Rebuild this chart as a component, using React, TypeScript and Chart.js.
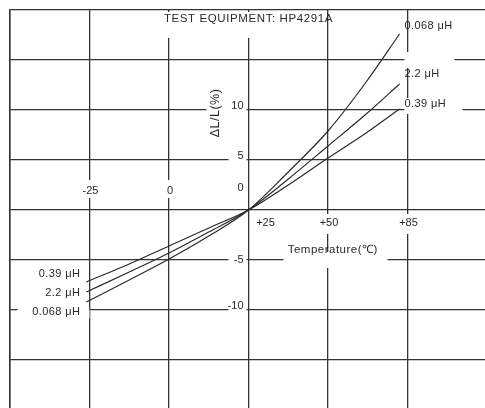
import { useEffect, useRef } from "react";
import { Chart, registerables } from "chart.js";

Chart.register(...registerables);

// Temperature positions (axis units; the last grid column is labelled +85)
const temperatures = [-26, -12.5, 0, 12.5, 25, 37.5, 50, 62, 72.5];
const series068 = [-9.2, -7.0, -4.9, -2.6, 0, 3.8, 7.9, 12.8, 17.6];
const series22 = [-8.2, -6.2, -4.3, -2.2, 0, 3.1, 6.4, 9.6, 12.6];
const series039 = [-7.2, -5.4, -3.6, -1.8, 0, 2.5, 5.2, 7.7, 10.1];
const seriesNames = ["0.068 μH", "2.2 μH", "0.39 μH"];

const xTickValues = [-25, 0, 25, 50, 75];
const xTickLabels = ["-25", "0", "+25", "+50", "+85"];
const yTickValues = [10, 5, 0, -5, -10];
const yTickLabels = ["10", "5", "0", "-5", "-10"];

const titleText = "TEST EQUIPMENT: HP4291A";
const xTitle = "Temperature(℃)";
const yTitle = "ΔL/L(%)";

const INK = "#2a2a2a";
const FONT = "'Liberation Sans', Arial, sans-serif";

function whiteBox(ctx: CanvasRenderingContext2D, x: number, y: number, w: number, h: number) {
  ctx.save();
  ctx.fillStyle = "#ffffff";
  ctx.fillRect(x, y, w, h);
  ctx.restore();
}

function setSpacing(ctx: CanvasRenderingContext2D, px: number) {
  (ctx as any).letterSpacing = `${px}px`;
}

const annotatePlugin = {
  id: "annotate",
  beforeDatasetsDraw(chart: any) {
    const ctx: CanvasRenderingContext2D = chart.ctx;
    const xs = chart.scales.x;
    const ys = chart.scales.y;
    const cx = xs.getPixelForValue(25);
    const y0 = ys.getPixelForValue(0);
    // title gap
    whiteBox(ctx, cx - 88, chart.chartArea.top + 2, 160, 26);
    // y label gaps
    yTickValues.forEach((v) => {
      const py = ys.getPixelForValue(v);
      if (v === 0) return;
      whiteBox(ctx, cx - 20, py - 8, 18, 14);
    });
    // x label gaps
    xTickValues.forEach((v) => {
      const px = xs.getPixelForValue(v);
      if (v <= 0) whiteBox(ctx, px - 9, y0 - 30, 18, 18);
      else if (v > 25) whiteBox(ctx, px - 12, y0 + 4, 24, 20);
    });
    // x title gap
    whiteBox(ctx, xs.getPixelForValue(36), ys.getPixelForValue(-5) - 8, 104, 16);
    // y title gap
    whiteBox(ctx, cx - 42, ys.getPixelForValue(10) - 28, 24, 58);
    // right labels gaps
    const ex = xs.getPixelForValue(75);
    whiteBox(ctx, ex - 3, ys.getPixelForValue(10) - 12, 58, 16);
    whiteBox(ctx, ex - 3, ys.getPixelForValue(15) - 8, 50, 16);
    // left labels gap
    const lx = xs.getPixelForValue(-25);
    whiteBox(ctx, lx - 72, ys.getPixelForValue(-10) - 1, 72, 10);
  },
  afterDatasetsDraw(chart: any) {
    const ctx: CanvasRenderingContext2D = chart.ctx;
    const xs = chart.scales.x;
    const ys = chart.scales.y;
    const cx = xs.getPixelForValue(25);
    const y0 = ys.getPixelForValue(0);
    ctx.save();
    ctx.fillStyle = INK;
    ctx.textBaseline = "middle";

    // title
    ctx.font = `11.5px ${FONT}`;
    setSpacing(ctx, 0.6);
    ctx.textAlign = "center";
    ctx.fillText(titleText, cx, chart.chartArea.top + 9);

    // y tick labels
    ctx.font = `11px ${FONT}`;
    setSpacing(ctx, 0);
    ctx.textAlign = "right";
    yTickValues.forEach((v, i) => {
      const py = ys.getPixelForValue(v);
      const dy = v === 0 ? -22 : v === -5 ? 0 : -4;
      ctx.fillText(yTickLabels[i], cx - 5, py + dy);
    });

    // x tick labels
    ctx.textAlign = "center";
    xTickValues.forEach((v, i) => {
      const px = xs.getPixelForValue(v);
      if (v <= 0) ctx.fillText(xTickLabels[i], px + 1, y0 - 19);
      else ctx.fillText(xTickLabels[i], v === 25 ? px + 17 : px + 1, y0 + 13);
    });

    // axis titles
    ctx.font = `11.5px ${FONT}`;
    setSpacing(ctx, 0.5);
    ctx.fillText(xTitle, xs.getPixelForValue(51.5), ys.getPixelForValue(-4));
    ctx.save();
    ctx.translate(cx - 33, ys.getPixelForValue(9.7));
    ctx.rotate(-Math.PI / 2);
    ctx.font = `12.5px ${FONT}`;
    ctx.fillText(yTitle, 0, 0);
    ctx.restore();

    // series labels, right side
    ctx.font = `11px ${FONT}`;
    setSpacing(ctx, 0.4);
    ctx.textAlign = "left";
    const last = temperatures.length - 1;
    const rightY = [18.4, 13.6, 10.6];
    seriesNames.forEach((name, i) => {
      ctx.fillText(name, xs.getPixelForValue(temperatures[last]) + 5, ys.getPixelForValue(rightY[i]));
    });
    // series labels, left side
    ctx.textAlign = "right";
    const leftY = [-10.2, -8.3, -6.4];
    seriesNames.forEach((name, i) => {
      ctx.fillText(name, xs.getPixelForValue(temperatures[0]) - 6, ys.getPixelForValue(leftY[i]));
    });
    ctx.restore();
  },
};

export default function App() {
  const ref = useRef<HTMLCanvasElement | null>(null);
  useEffect(() => {
    if (!ref.current) return;
    const mk = (label: string, data: number[]) => ({
      label,
      data: temperatures.map((t, i) => ({ x: t, y: data[i] })),
      borderColor: INK,
      borderWidth: 1.2,
      pointRadius: 0,
      cubicInterpolationMode: "monotone" as const,
      fill: false,
    });
    const chart = new Chart(ref.current, {
      type: "line",
      data: {
        datasets: [mk(seriesNames[0], series068), mk(seriesNames[1], series22), mk(seriesNames[2], series039)],
      },
      options: {
        animation: false,
        responsive: false,
        layout: { padding: { left: 10, top: 10, right: 3, bottom: 2 } },
        plugins: { legend: { display: false }, tooltip: { enabled: false } },
        scales: {
          x: {
            type: "linear",
            min: -50,
            max: 100,
            ticks: { display: false, stepSize: 25 },
            grid: { color: "#333", lineWidth: 1.3, drawTicks: false },
            border: { display: true, color: "#333", width: 1.5 },
          },
          y: {
            type: "linear",
            min: -20,
            max: 20,
            ticks: { display: false, stepSize: 5 },
            grid: { color: "#333", lineWidth: 1.3, drawTicks: false },
            border: { display: true, color: "#333", width: 1.5 },
          },
        },
      },
      plugins: [annotatePlugin],
    });
    return () => chart.destroy();
  }, []);
  return (
    <div style={{ position: "fixed", left: 0, top: 0, width: 485, height: 408, overflow: "hidden", background: "#fff" }}>
      <canvas ref={ref} width={490} height={412} style={{ width: 490, height: 412, display: "block" }} />
    </div>
  );
}
